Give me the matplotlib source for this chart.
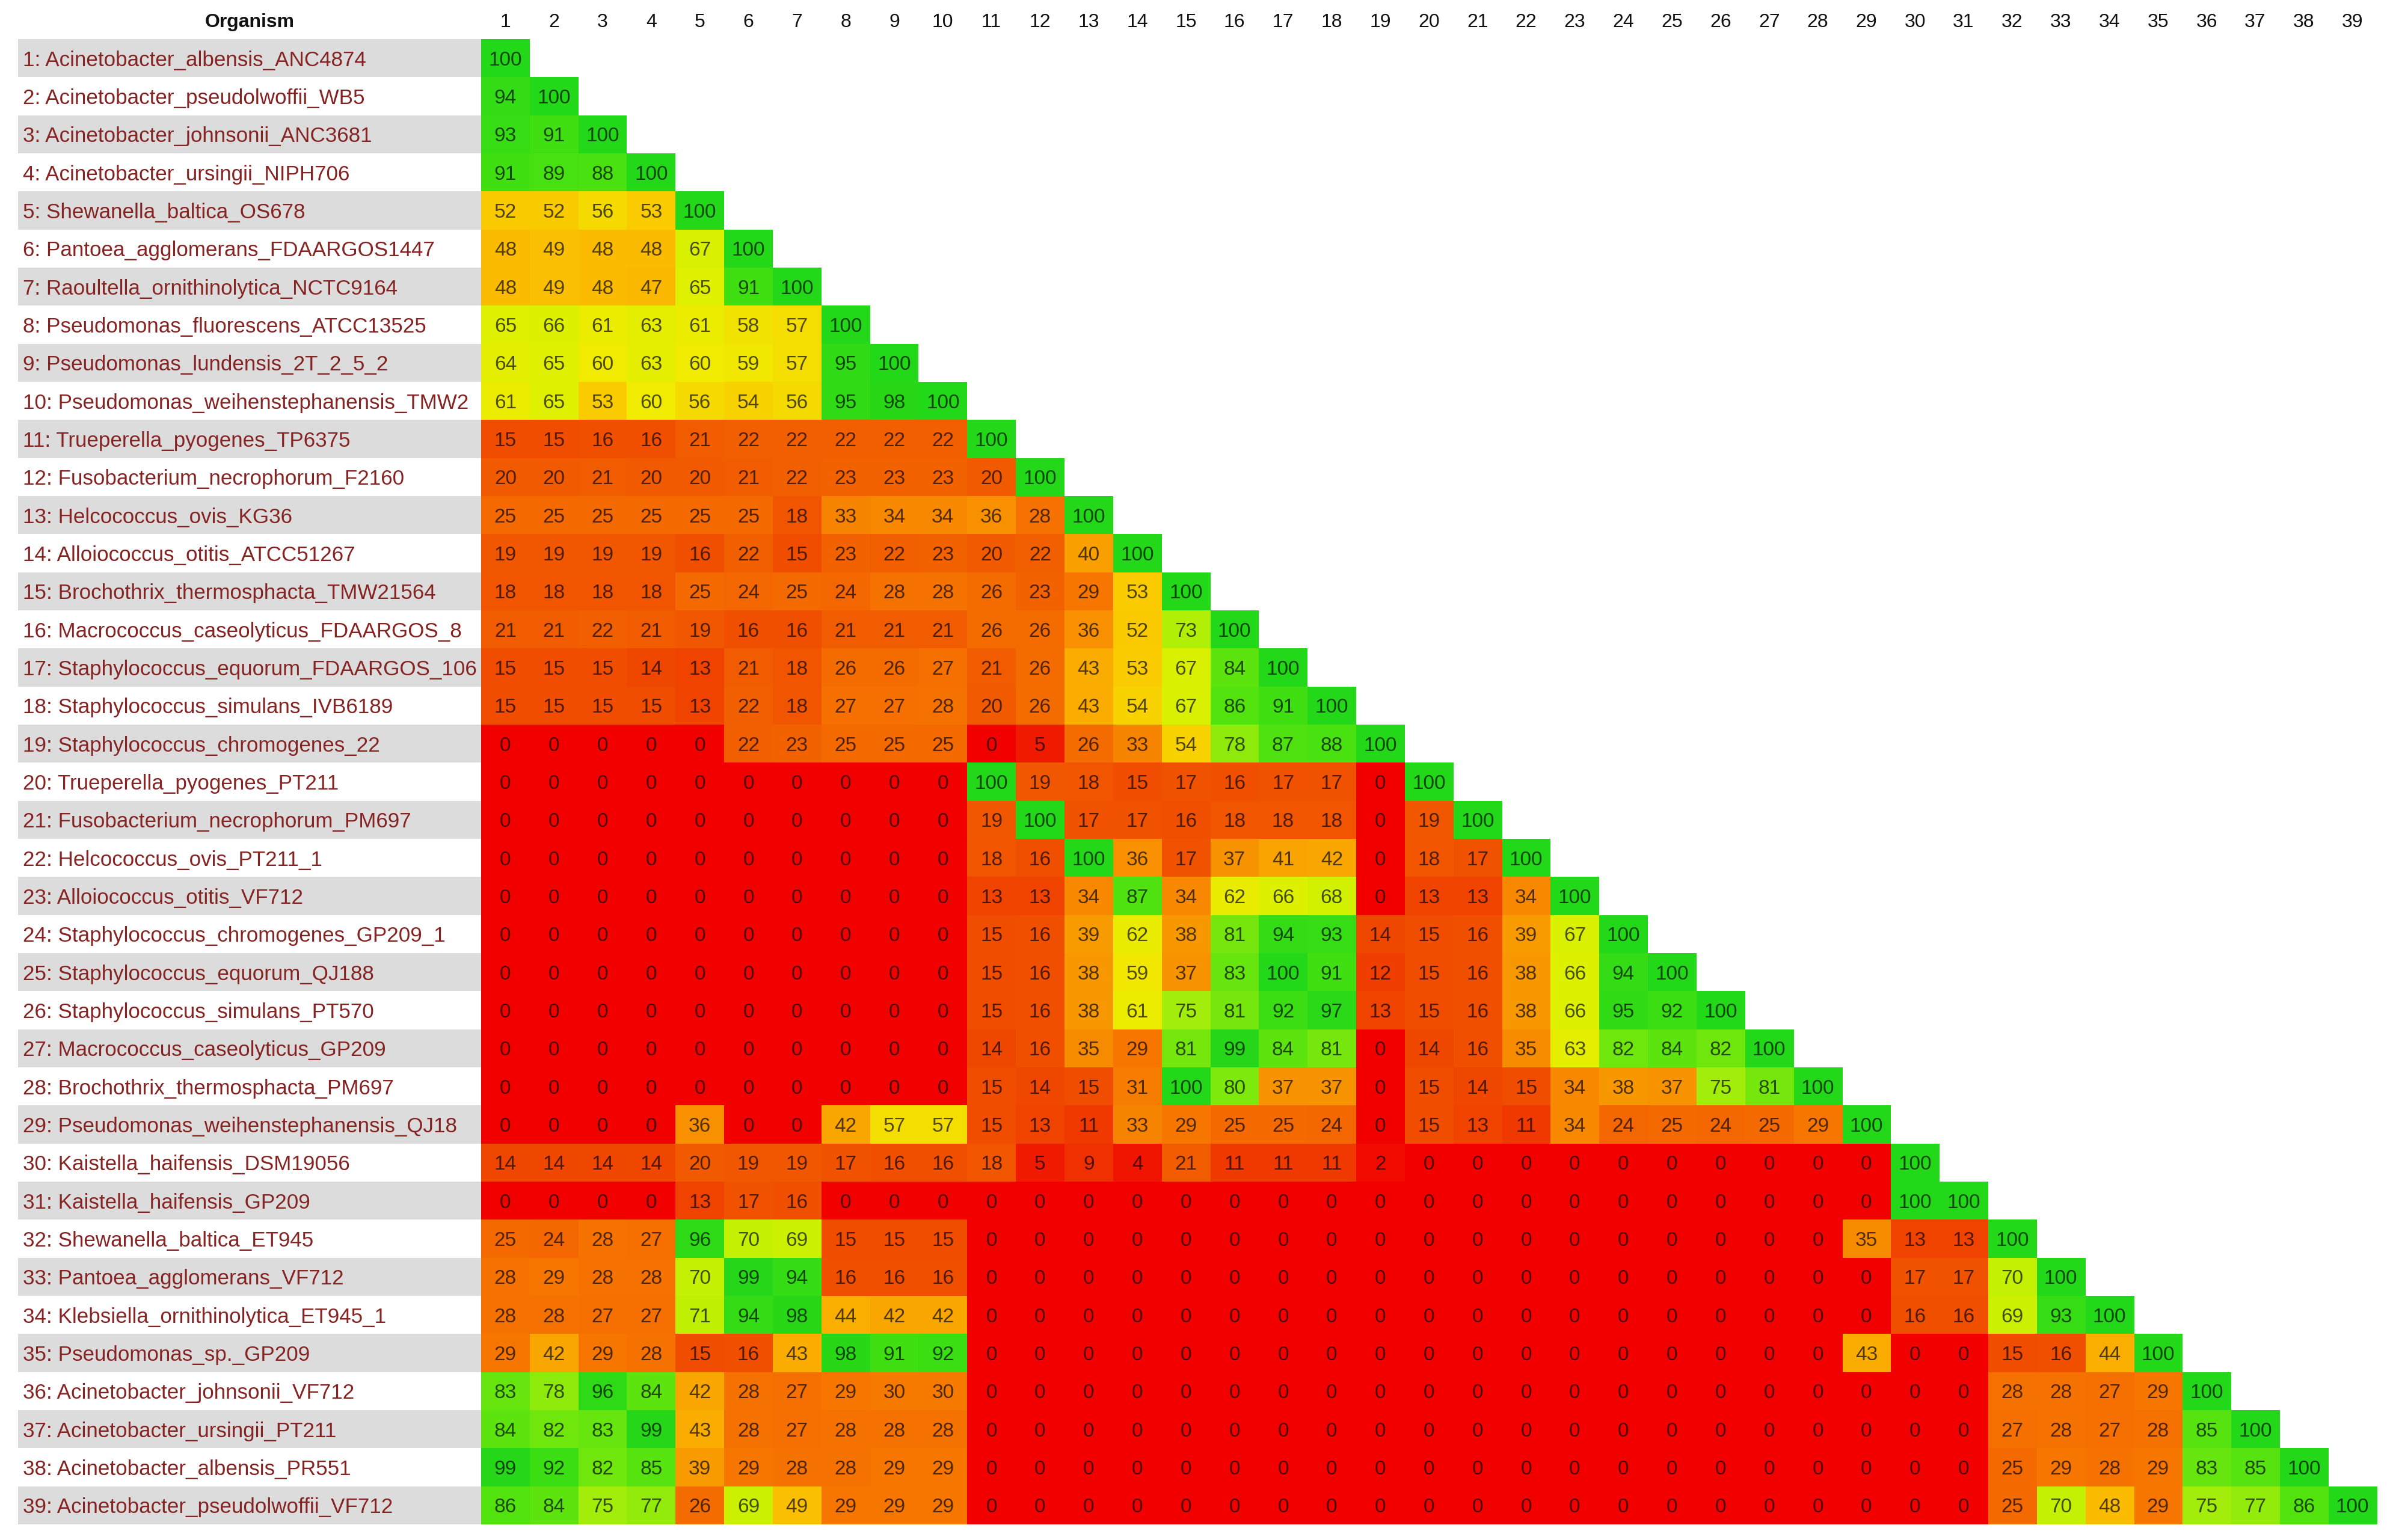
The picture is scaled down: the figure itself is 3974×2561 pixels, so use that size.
import numpy as np
import matplotlib.pyplot as plt
from matplotlib.colors import LinearSegmentedColormap
from matplotlib.patches import Rectangle

plt.rcParams['font.family'] = ['Liberation Sans', 'DejaVu Sans']

organisms = [
    "Acinetobacter_albensis_ANC4874",
    "Acinetobacter_pseudolwoffii_WB5",
    "Acinetobacter_johnsonii_ANC3681",
    "Acinetobacter_ursingii_NIPH706",
    "Shewanella_baltica_OS678",
    "Pantoea_agglomerans_FDAARGOS1447",
    "Raoultella_ornithinolytica_NCTC9164",
    "Pseudomonas_fluorescens_ATCC13525",
    "Pseudomonas_lundensis_2T_2_5_2",
    "Pseudomonas_weihenstephanensis_TMW2",
    "Trueperella_pyogenes_TP6375",
    "Fusobacterium_necrophorum_F2160",
    "Helcococcus_ovis_KG36",
    "Alloiococcus_otitis_ATCC51267",
    "Brochothrix_thermosphacta_TMW21564",
    "Macrococcus_caseolyticus_FDAARGOS_8",
    "Staphylococcus_equorum_FDAARGOS_106",
    "Staphylococcus_simulans_IVB6189",
    "Staphylococcus_chromogenes_22",
    "Trueperella_pyogenes_PT211",
    "Fusobacterium_necrophorum_PM697",
    "Helcococcus_ovis_PT211_1",
    "Alloiococcus_otitis_VF712",
    "Staphylococcus_chromogenes_GP209_1",
    "Staphylococcus_equorum_QJ188",
    "Staphylococcus_simulans_PT570",
    "Macrococcus_caseolyticus_GP209",
    "Brochothrix_thermosphacta_PM697",
    "Pseudomonas_weihenstephanensis_QJ18",
    "Kaistella_haifensis_DSM19056",
    "Kaistella_haifensis_GP209",
    "Shewanella_baltica_ET945",
    "Pantoea_agglomerans_VF712",
    "Klebsiella_ornithinolytica_ET945_1",
    "Pseudomonas_sp._GP209",
    "Acinetobacter_johnsonii_VF712",
    "Acinetobacter_ursingii_PT211",
    "Acinetobacter_albensis_PR551",
    "Acinetobacter_pseudolwoffii_VF712",
]

col_labels = [str(k) for k in range(1, len(organisms) + 1)]

# lower triangle of the identity matrix, one list per row (diagonal included)
lower_rows = [
    [100],
    [94, 100],
    [93, 91, 100],
    [91, 89, 88, 100],
    [52, 52, 56, 53, 100],
    [48, 49, 48, 48, 67, 100],
    [48, 49, 48, 47, 65, 91, 100],
    [65, 66, 61, 63, 61, 58, 57, 100],
    [64, 65, 60, 63, 60, 59, 57, 95, 100],
    [61, 65, 53, 60, 56, 54, 56, 95, 98, 100],
    [15, 15, 16, 16, 21, 22, 22, 22, 22, 22, 100],
    [20, 20, 21, 20, 20, 21, 22, 23, 23, 23, 20, 100],
    [25, 25, 25, 25, 25, 25, 18, 33, 34, 34, 36, 28, 100],
    [19, 19, 19, 19, 16, 22, 15, 23, 22, 23, 20, 22, 40, 100],
    [18, 18, 18, 18, 25, 24, 25, 24, 28, 28, 26, 23, 29, 53, 100],
    [21, 21, 22, 21, 19, 16, 16, 21, 21, 21, 26, 26, 36, 52, 73, 100],
    [15, 15, 15, 14, 13, 21, 18, 26, 26, 27, 21, 26, 43, 53, 67, 84, 100],
    [15, 15, 15, 15, 13, 22, 18, 27, 27, 28, 20, 26, 43, 54, 67, 86, 91, 100],
    [0, 0, 0, 0, 0, 22, 23, 25, 25, 25, 0, 5, 26, 33, 54, 78, 87, 88, 100],
    [0, 0, 0, 0, 0, 0, 0, 0, 0, 0, 100, 19, 18, 15, 17, 16, 17, 17, 0, 100],
    [0, 0, 0, 0, 0, 0, 0, 0, 0, 0, 19, 100, 17, 17, 16, 18, 18, 18, 0, 19, 100],
    [0, 0, 0, 0, 0, 0, 0, 0, 0, 0, 18, 16, 100, 36, 17, 37, 41, 42, 0, 18, 17, 100],
    [0, 0, 0, 0, 0, 0, 0, 0, 0, 0, 13, 13, 34, 87, 34, 62, 66, 68, 0, 13, 13, 34, 100],
    [0, 0, 0, 0, 0, 0, 0, 0, 0, 0, 15, 16, 39, 62, 38, 81, 94, 93, 14, 15, 16, 39, 67, 100],
    [0, 0, 0, 0, 0, 0, 0, 0, 0, 0, 15, 16, 38, 59, 37, 83, 100, 91, 12, 15, 16, 38, 66, 94, 100],
    [0, 0, 0, 0, 0, 0, 0, 0, 0, 0, 15, 16, 38, 61, 75, 81, 92, 97, 13, 15, 16, 38, 66, 95, 92, 100],
    [0, 0, 0, 0, 0, 0, 0, 0, 0, 0, 14, 16, 35, 29, 81, 99, 84, 81, 0, 14, 16, 35, 63, 82, 84, 82, 100],
    [0, 0, 0, 0, 0, 0, 0, 0, 0, 0, 15, 14, 15, 31, 100, 80, 37, 37, 0, 15, 14, 15, 34, 38, 37, 75, 81, 100],
    [0, 0, 0, 0, 36, 0, 0, 42, 57, 57, 15, 13, 11, 33, 29, 25, 25, 24, 0, 15, 13, 11, 34, 24, 25, 24, 25, 29, 100],
    [14, 14, 14, 14, 20, 19, 19, 17, 16, 16, 18, 5, 9, 4, 21, 11, 11, 11, 2,
     0, 0, 0, 0, 0, 0, 0, 0, 0, 0, 100],
    [0, 0, 0, 0, 13, 17, 16, 0, 0, 0, 0, 0, 0, 0, 0, 0, 0, 0, 0,
     0, 0, 0, 0, 0, 0, 0, 0, 0, 0, 100, 100],
    [25, 24, 28, 27, 96, 70, 69, 15, 15, 15, 0, 0, 0, 0, 0, 0, 0, 0, 0,
     0, 0, 0, 0, 0, 0, 0, 0, 0, 35, 13, 13, 100],
    [28, 29, 28, 28, 70, 99, 94, 16, 16, 16, 0, 0, 0, 0, 0, 0, 0, 0, 0,
     0, 0, 0, 0, 0, 0, 0, 0, 0, 0, 17, 17, 70, 100],
    [28, 28, 27, 27, 71, 94, 98, 44, 42, 42, 0, 0, 0, 0, 0, 0, 0, 0, 0,
     0, 0, 0, 0, 0, 0, 0, 0, 0, 0, 16, 16, 69, 93, 100],
    [29, 42, 29, 28, 15, 16, 43, 98, 91, 92, 0, 0, 0, 0, 0, 0, 0, 0, 0,
     0, 0, 0, 0, 0, 0, 0, 0, 0, 43, 0, 0, 15, 16, 44, 100],
    [83, 78, 96, 84, 42, 28, 27, 29, 30, 30, 0, 0, 0, 0, 0, 0, 0, 0, 0,
     0, 0, 0, 0, 0, 0, 0, 0, 0, 0, 0, 0, 28, 28, 27, 29, 100],
    [84, 82, 83, 99, 43, 28, 27, 28, 28, 28, 0, 0, 0, 0, 0, 0, 0, 0, 0,
     0, 0, 0, 0, 0, 0, 0, 0, 0, 0, 0, 0, 27, 28, 27, 28, 85, 100],
    [99, 92, 82, 85, 39, 29, 28, 28, 29, 29, 0, 0, 0, 0, 0, 0, 0, 0, 0,
     0, 0, 0, 0, 0, 0, 0, 0, 0, 0, 0, 0, 25, 29, 28, 29, 83, 85, 100],
    [86, 84, 75, 77, 26, 69, 49, 29, 29, 29, 0, 0, 0, 0, 0, 0, 0, 0, 0,
     0, 0, 0, 0, 0, 0, 0, 0, 0, 0, 0, 0, 25, 70, 48, 29, 75, 77, 86, 100],
]

n = len(organisms)
mat = np.full((n, n), np.nan)
for i, row in enumerate(lower_rows):
    mat[i, :len(row)] = row
mat = np.ma.masked_invalid(mat)

# red -> orange -> yellow -> green
stops = [
    (0.00, (242, 0, 0)),
    (0.05, (240, 28, 0)),
    (0.15, (240, 78, 0)),
    (0.22, (243, 96, 0)),
    (0.28, (246, 115, 0)),
    (0.35, (248, 140, 0)),
    (0.43, (250, 172, 0)),
    (0.53, (250, 205, 0)),
    (0.60, (240, 235, 0)),
    (0.67, (218, 242, 0)),
    (0.75, (165, 238, 10)),
    (0.85, (88, 228, 15)),
    (0.93, (55, 222, 20)),
    (1.00, (35, 215, 25)),
]
cmap = LinearSegmentedColormap.from_list('ryg', [(p, tuple(c / 255 for c in rgb)) for p, rgb in stops])
cmap.set_bad('white')

W, H = 3974, 2561
fig = plt.figure(figsize=(W / 100, H / 100), dpi=100)
left, right, top, bottom = 800, 3952, 65, 2535
ax = fig.add_axes([left / W, 1 - bottom / H, (right - left) / W, (bottom - top) / H])
ax.imshow(mat, cmap=cmap, vmin=0, vmax=100, aspect='auto', interpolation='nearest')
ax.set_xlim(-0.5, n - 0.5)
ax.set_ylim(n - 0.5, -0.5)
ax.axis('off')

cell_w = (right - left) / n
label_x0 = -0.5 - (left - 30) / cell_w

for i, row in enumerate(lower_rows):
    for j, v in enumerate(row):
        tc = np.array(cmap(v / 100)[:3]) * 0.33
        ax.text(j, i, str(v), ha='center', va='center_baseline', fontsize=24, color=tc)

# organism label column, striped
for i, name in enumerate(organisms):
    if i % 2 == 0:
        ax.add_patch(Rectangle((label_x0, i - 0.5), -0.5 - label_x0, 1,
                               facecolor='#dcdcdc', edgecolor='none', clip_on=False))
    ax.text(label_x0 + 0.1, i, f'{i + 1}: {name}', ha='left', va='center_baseline',
            fontsize=25.2, color='#862424', clip_on=False)

# header
for j, lab in enumerate(col_labels):
    ax.text(j, -1.0, lab, ha='center', va='center_baseline', fontsize=23, color='#111111', clip_on=False)
ax.text((label_x0 - 0.5) / 2, -1.0, 'Organism', ha='center', va='center_baseline',
        fontsize=23, fontweight='bold', color='#111111', clip_on=False)

fig.savefig('out.png', dpi=100, facecolor='white')
